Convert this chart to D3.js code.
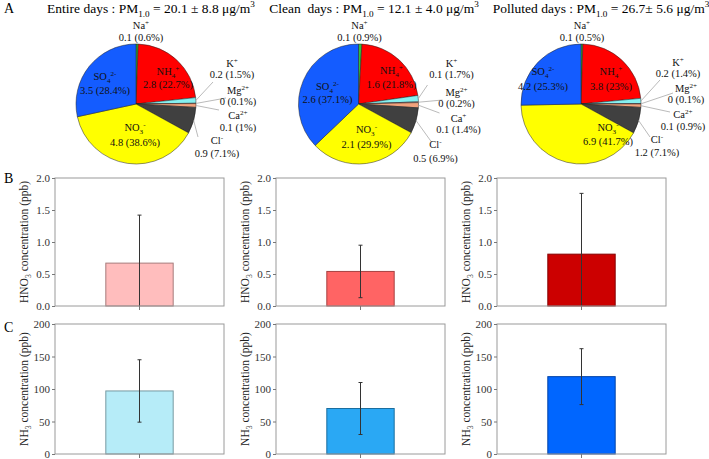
<!DOCTYPE html>
<html><head><meta charset="utf-8">
<script src="https://cdn.jsdelivr.net/npm/d3@7"></script>
<style>body{margin:0;background:#fff}svg{display:block}</style>
</head><body>
<svg id="c" width="709" height="459"></svg>
<script>
// ---------- DATA ----------
const ions = ["Na","NH4","K","Mg","Ca","Cl","NO3","SO4"];
const periods = ["Entire days","Clean\u00a0\u00a0days","Polluted days"];
const pmMean = ["20.1","12.1","26.7"];
const pmSd = ["8.8","4.0","5.6"];
const entireVals = [0.1,2.8,0.2,0,0.1,0.9,4.8,3.5];
const entirePct  = [0.6,22.7,1.5,0.1,1,7.1,38.6,28.4];
const cleanVals  = [0.1,1.6,0.1,0,0.1,0.5,2.1,2.6];
const cleanPct   = [0.9,21.8,1.7,0.2,1.4,6.9,29.9,37.1];
const pollutedVals = [0.1,3.8,0.2,0,0.1,1.2,6.9,4.2];
const pollutedPct  = [0.5,23,1.4,0.1,0.9,7.1,41.7,25.3];
const hno3Mean = [0.67,0.54,0.81];
const hno3Err  = [0.75,0.41,0.95];
const nh3Mean  = [97,70,119];
const nh3Err   = [48,40,43];
const hno3Ticks = [0,0.5,1.0,1.5,2.0];
const nh3Ticks  = [0,50,100,150,200];

// ---------- STYLE / LAYOUT ----------
const ionColor = {Na:"#2fbf3a",NH4:"#ff0000",K:"#86f0f0",Mg:"#f7b0c8",Ca:"#f2a27c",Cl:"#404040",NO3:"#ffff00",SO4:"#145cff"};
const ionName = {
  Na:[["Na",""],["+","sup"]], NH4:[["NH",""],["4","sub"],["+","sup"]], K:[["K",""],["+","sup"]],
  Mg:[["Mg",""],["2+","sup"]], Ca:[["Ca",""],["2+","sup"]], Cl:[["Cl",""],["-","sup"]],
  NO3:[["NO",""],["3","sub"],["-","sup"]], SO4:[["SO",""],["4","sub"],["2-","sup"]]
};
const caNameClean = [["Ca",""],["+","sup"]];
const hno3Colors = ["#ffbdbd","#ff6464","#cc0000"];
const nh3Colors  = ["#b6ecf8","#2aa8f4","#0066ff"];
const FONT = "'Liberation Serif','Times New Roman',serif";
const pieCX = i => 136 + i*222.5, pieCY = 104, pieR = 60;
// label positions relative to pie center: [dx, dy(name baseline), gap]; leader end [dx,dy]
const labelLayout = [
  {Na:[5,-75,12],NH4:[32,-29,13],SO4:[-31,-24,14],NO3:[-1,27,15],K:[96,-37,11],Mg:[102,-10,11],Ca:[102,15,12],Cl:[81,40,13]},
  {Na:[1,-75,12],NH4:[33,-30,14],SO4:[-31,-14,13],NO3:[8,29,15],K:[93,-37,11],Mg:[98,-8,11],Ca:[100,18,11],Cl:[77,44,14]},
  {Na:[1,-75,12],NH4:[30,-29,15],SO4:[-38,-29,15],NO3:[27,27,14],K:[97,-38,11],Mg:[105,-12,11],Ca:[102,14,12],Cl:[76,39,13]}
];
const leaderEnd = [
  {K:[77,-22],Mg:[90,-6],Ca:[83,6],Cl:[62,33]},
  {K:[69,-19],Mg:[84,-4],Ca:[81,9],Cl:[73,38]},
  {K:[79,-24],Mg:[92,-11],Ca:[89,8],Cl:[69,33]}
];

const svg = d3.select("#c").attr("font-family", FONT);

function rich(sel, parts, fs){
  let shift = 0;
  parts.forEach(([s,t])=>{
    const target = t==="sub" ? fs*0.3 : t==="sup" ? -fs*0.42 : 0;
    sel.append("tspan").attr("dy", target-shift).attr("font-size", t ? fs*0.68 : fs).text(s);
    shift = target;
  });
}

// panel letters
[["A",13],["B",183],["C",332]].forEach(([t,y])=>{
  svg.append("text").attr("x",4).attr("y",y).attr("font-size",14).text(t);
});

// ---------- PIES ----------
const pieVals = [entireVals, cleanVals, pollutedVals];
const piePcts = [entirePct, cleanPct, pollutedPct];
const titleCX = [151, 374, 601];
const pie = d3.pie().sort(null).value(d=>d.pct).startAngle(0).endAngle(2*Math.PI);
const arc = d3.arc().innerRadius(0).outerRadius(pieR);

periods.forEach((p,i)=>{
  // title
  const t = svg.append("text").attr("x",titleCX[i]).attr("y",13).attr("text-anchor","middle").attr("font-size",13.5);
  rich(t, [[p+" : PM",""],["1.0","sub"],[" = "+pmMean[i]+(i===2?"":" ")+"± "+pmSd[i]+" μg/m",""],["3","sup"]], 13.5);

  const data = ions.map((k,j)=>({ion:k, val:pieVals[i][j], pct:piePcts[i][j]}));
  const g = svg.append("g").attr("transform",`translate(${pieCX(i)},${pieCY})`);
  const arcs = pie(data);
  g.selectAll("path").data(arcs).join("path")
    .attr("d",arc).attr("fill",d=>ionColor[d.data.ion])
    .attr("stroke","#222").attr("stroke-width",0.5);

  arcs.forEach(a=>{
    const ion = a.data.ion;
    const L = labelLayout[i][ion];
    if(leaderEnd[i][ion]){
      const m = (a.startAngle+a.endAngle)/2;
      const e = leaderEnd[i][ion];
      g.append("line").attr("x1",pieR*Math.sin(m)).attr("y1",-pieR*Math.cos(m))
        .attr("x2",e[0]).attr("y2",e[1]).attr("stroke","#a8a8a8").attr("stroke-width",0.8);
    }
    const fs = 10.5;
    const nt = g.append("text").attr("x",L[0]).attr("y",L[1]).attr("text-anchor","middle").attr("font-size",fs).attr("fill","#111");
    rich(nt, (i===1 && ion==="Ca") ? caNameClean : ionName[ion], fs);
    g.append("text").attr("x",L[0]).attr("y",L[1]+L[2]).attr("text-anchor","middle").attr("font-size",fs).attr("fill","#111")
      .text(`${a.data.val} (${a.data.pct}%)`);
  });
});

// ---------- BARS ----------
const panelW = 169;
const panelX = i => 55 + i*221;
function barPanel(i, top, bottom, domainMax, ticks, fmt, mean, err, color, labelParts){
  const x0 = panelX(i);
  const g = svg.append("g");
  const y = d3.scaleLinear().domain([0,domainMax]).range([bottom, top]);
  const xb = d3.scaleBand().domain([periods[i]]).range([x0, x0+panelW]).padding(0.43);
  const clipId = "clip"+i+"_"+top;
  svg.append("clipPath").attr("id",clipId).append("rect")
    .attr("x",x0).attr("y",top).attr("width",panelW).attr("height",bottom-top);
  // bar
  g.append("rect").attr("x",xb(periods[i])).attr("y",y(mean)).attr("width",xb.bandwidth())
    .attr("height",y(0)-y(mean)).attr("fill",color).attr("stroke",d3.color(color).darker(1.2)).attr("stroke-width",1);
  // error bar
  const cx = xb(periods[i]) + xb.bandwidth()/2;
  const eg = g.append("g").attr("clip-path",`url(#${clipId})`).attr("stroke","#333").attr("stroke-width",1);
  eg.append("line").attr("x1",cx).attr("x2",cx).attr("y1",y(mean+err)).attr("y2",y(mean-err));
  [mean+err, mean-err].forEach(v=>{
    eg.append("line").attr("x1",cx-2).attr("x2",cx+2).attr("y1",y(v)).attr("y2",y(v));
  });
  // frame
  g.append("rect").attr("x",x0).attr("y",top).attr("width",panelW).attr("height",bottom-top)
    .attr("fill","none").attr("stroke","#9a9a9a").attr("stroke-width",1);
  // y axis
  const ax = g.append("g").attr("transform",`translate(${x0},0)`)
    .call(d3.axisLeft(y).tickValues(ticks).tickFormat(fmt).tickSize(3).tickPadding(2));
  ax.select(".domain").remove();
  ax.selectAll(".tick line").attr("stroke","#777");
  ax.selectAll(".tick text").attr("font-family",FONT).attr("font-size",11).attr("fill","#333");
  // x tick
  const xa = g.append("g").attr("transform",`translate(0,${bottom})`)
    .call(d3.axisBottom(xb).tickSize(4).tickFormat(""));
  xa.select(".domain").remove();
  xa.selectAll(".tick line").attr("stroke","#777");
  // y label
  const lt = g.append("text").attr("transform",`translate(${x0-27},${(top+bottom)/2}) rotate(-90)`)
    .attr("text-anchor","middle").attr("font-size",11.5).attr("fill","#222");
  rich(lt, labelParts, 11.5);
}
for(let i=0;i<3;i++){
  barPanel(i,178,306,2,hno3Ticks,d3.format(".1f"),hno3Mean[i],hno3Err[i],hno3Colors[i],
    [["HNO",""],["3","sub"],[" concentration (ppb)",""]]);
  barPanel(i,324,454,200,nh3Ticks,d3.format("d"),nh3Mean[i],nh3Err[i],nh3Colors[i],
    [["NH",""],["3","sub"],[" concentration (ppb)",""]]);
}
</script>
</body></html>
